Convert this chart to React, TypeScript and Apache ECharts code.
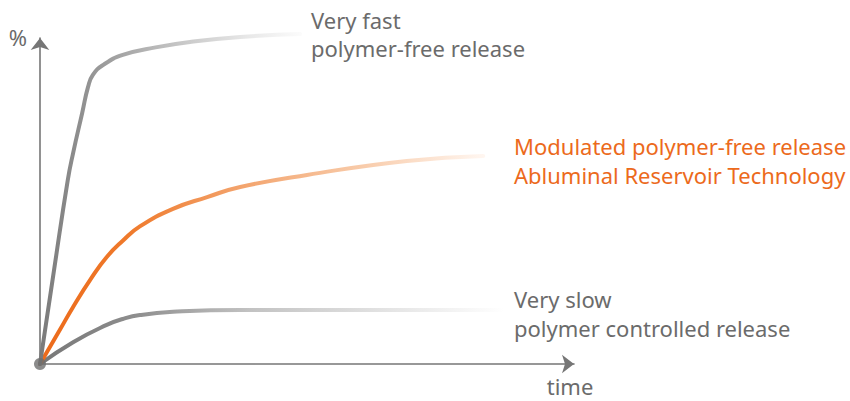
import React, { useEffect, useRef } from "react";
import * as echarts from "echarts";

// Schematic release curves (time units 0..100, release % units 0..100)
const fastRelease: [number, number][] = [
  [0, 0], [2.6, 28.5], [5.2, 56.4], [6.2, 64.7], [7.9, 77], [9.0, 85], [9.9, 88.7],
  [11.8, 91.7], [15.5, 94.8], [21.9, 97.2], [28.1, 98.8], [37.5, 100.3], [48.7, 101.2],
];
const modulatedRelease: [number, number][] = [
  [0, 0], [3.7, 10.4], [6.2, 17.5], [9.4, 25.8], [12.5, 32.8], [15.5, 37.8], [18.7, 42.2],
  [24.9, 47.6], [31.3, 51.2], [37.5, 54.3], [50, 58], [68.7, 62.3], [83, 63.8],
];
const slowRelease: [number, number][] = [
  [0, 0], [6.2, 6.7], [12.5, 12], [15.5, 13.8], [18.7, 15], [24.9, 16], [37.5, 16.6],
  [48.7, 16.6], [87, 16.6],
];
const origin: [number, number][] = [[0, 0]];

const fastLabel = ["Very fast", "polymer-free release"];
const modulatedLabel = ["Modulated polymer-free release", "Abluminal Reservoir Technology"];
const slowLabel = ["Very slow", "polymer controlled release"];
const yAxisName = "%";
const xAxisName = "time";

const GRAY_TEXT = "#6b6b6b";
const ORANGE_TEXT = "#ec6a1c";
const AXIS = "#767676";
const FONT = '22px "Noto Sans", sans-serif';

function grad(stops: [number, string][]) {
  return new echarts.graphic.LinearGradient(
    0, 0, 1, 0,
    stops.map(([offset, color]) => ({ offset, color }))
  );
}

function textEl(text: string, x: number, y: number, fill: string, align = "left") {
  return {
    type: "text",
    style: {
      text, x, y, fill, font: FONT,
      textAlign: align, align,
      textVerticalAlign: "middle", verticalAlign: "middle",
    },
  };
}

export default function App() {
  const ref = useRef<HTMLDivElement>(null);
  useEffect(() => {
    if (!ref.current) return;
    const chart = echarts.init(ref.current, undefined, { renderer: "svg" });
    const lineBase = {
      type: "line",
      smooth: 0.5,
      symbol: "none",
      showSymbol: false,
      clip: false,
      silent: true,
    };
    chart.setOption({
      animation: false,
      grid: { left: 40, top: 38, right: 276, bottom: 37 },
      xAxis: {
        type: "value", min: 0, max: 100,
        axisLine: {
          show: true, symbol: ["none", "arrow"], symbolSize: [14, 12],
          lineStyle: { color: AXIS, width: 1.6 },
        },
        axisTick: { show: false }, axisLabel: { show: false }, splitLine: { show: false },
      },
      yAxis: {
        type: "value", min: 0, max: 100,
        axisLine: {
          show: true, symbol: ["none", "arrow"], symbolSize: [14, 12],
          lineStyle: { color: AXIS, width: 1.6 },
        },
        axisTick: { show: false }, axisLabel: { show: false }, splitLine: { show: false },
      },
      series: [
        {
          ...lineBase,
          data: slowRelease,
          lineStyle: {
            width: 4, cap: "round",
            color: grad([[0, "#777777"], [0.2, "#8d8d8d"], [0.45, "#c2c2c2"], [0.75, "#e4e4e4"], [1, "#ffffff"]]),
          },
        },
        {
          ...lineBase,
          data: modulatedRelease,
          lineStyle: {
            width: 4, cap: "round",
            color: grad([[0, "#ec6a1a"], [0.2, "#ef7a2c"], [0.45, "#f3a36c"], [0.72, "#f8caa8"], [1, "#fff6f0"]]),
          },
        },
        {
          ...lineBase,
          data: fastRelease,
          lineStyle: {
            width: 4, cap: "round",
            color: grad([[0, "#7a7a7a"], [0.25, "#9c9c9c"], [0.55, "#c8c8c8"], [0.8, "#e8e8e8"], [1, "#fbfbfb"]]),
          },
        },
        {
          type: "scatter",
          data: origin,
          symbol: "circle",
          symbolSize: 12,
          itemStyle: { color: "#6e6e6e" },
          z: 10,
          silent: true,
        },
      ],
      graphic: [
        textEl(fastLabel[0], 311, 20, GRAY_TEXT),
        textEl(fastLabel[1], 311, 48, GRAY_TEXT),
        textEl(modulatedLabel[0], 514, 146, ORANGE_TEXT),
        textEl(modulatedLabel[1], 514, 175, ORANGE_TEXT),
        textEl(slowLabel[0], 514, 299, GRAY_TEXT),
        textEl(slowLabel[1], 514, 328, GRAY_TEXT),
        textEl(yAxisName, 18, 37, GRAY_TEXT, "center"),
        textEl(xAxisName, 570, 386, GRAY_TEXT, "center"),
      ],
    });
    return () => chart.dispose();
  }, []);
  return (
    <div
      ref={ref}
      style={{ position: "fixed", left: 0, top: 0, width: 850, height: 401, background: "#ffffff" }}
    />
  );
}
